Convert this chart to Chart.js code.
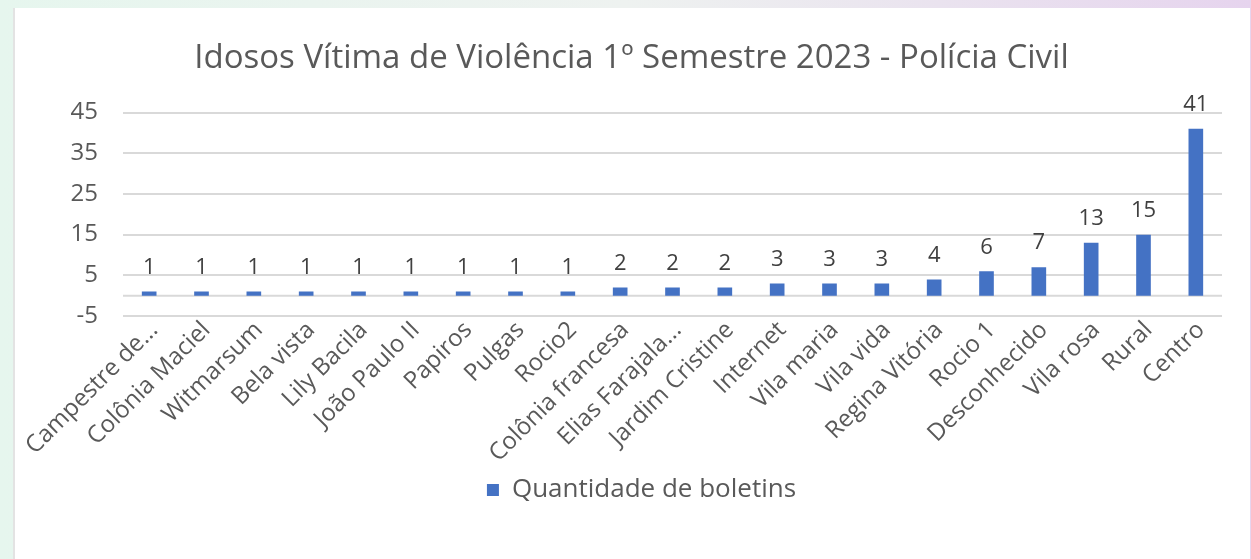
<!DOCTYPE html>
<html>
<head>
<meta charset="utf-8">
<script src="https://cdn.jsdelivr.net/npm/chart.js@4"></script>
<style>
  html, body { margin: 0; padding: 0; }
  body {
    width: 1251px; height: 559px; overflow: hidden;
    background: linear-gradient(90deg, #e6f6ee 0%, #eef2f0 50%, #e6d4ee 100%);
  }
  #panel {
    position: absolute; left: 13px; top: 8px; width: 1235px; height: 551px;
    background: #fff; border-left: 2px solid #e3e3e3;
  }
</style>
</head>
<body>
<div id="panel"><canvas id="chart" width="1235" height="551"></canvas></div>
<script>
// Bairros / categorias
var bairros = [
  "Campestre de...", "Colônia Maciel", "Witmarsum", "Bela vista", "Lily Bacila",
  "João Paulo II", "Papiros", "Pulgas", "Rocio2", "Colônia francesa",
  "Elias Farajala...", "Jardim Cristine", "Internet", "Vila maria", "Vila vida",
  "Regina Vitória", "Rocio 1", "Desconhecido", "Vila rosa", "Rural", "Centro"
];
// Quantidade de boletins
var boletins = [1, 1, 1, 1, 1, 1, 1, 1, 1, 2, 2, 2, 3, 3, 3, 4, 6, 7, 13, 15, 41];
// Eixo Y
var yMin = -5;
var yMax = 45;
var yStep = 10;

var FONT = "'Open Sans', sans-serif";
var GRAY = "#595959";

// Rótulos de dados acima das barras
var dataLabels = {
  id: "dataLabels",
  afterDatasetsDraw: function (chart) {
    var ctx = chart.ctx;
    var meta = chart.getDatasetMeta(0);
    ctx.save();
    ctx.font = "22px " + FONT;
    ctx.fillStyle = "#404040";
    ctx.textAlign = "center";
    ctx.textBaseline = "bottom";
    meta.data.forEach(function (bar, i) {
      ctx.fillText(boletins[i], bar.x, bar.y - 13);
    });
    ctx.restore();
  }
};

// Linha do zero (eixo de categorias)
var zeroLine = {
  id: "zeroLine",
  beforeDatasetsDraw: function (chart) {
    var ctx = chart.ctx;
    var y = chart.scales.y.getPixelForValue(0);
    ctx.save();
    ctx.strokeStyle = "#d9d9d9";
    ctx.lineWidth = 2;
    ctx.beginPath();
    ctx.moveTo(chart.chartArea.left, y);
    ctx.lineTo(chart.chartArea.right, y);
    ctx.stroke();
    ctx.restore();
  }
};

// Legenda um pouco à direita, como no original
var legendShift = {
  id: "legendShift",
  afterLayout: function (chart) {
    chart.legend.left += 10;
    chart.legend.right += 10;
  }
};

new Chart(document.getElementById("chart").getContext("2d"), {
  type: "bar",
  data: {
    labels: bairros,
    datasets: [
      {
        label: "Quantidade de boletins",
        data: boletins,
        backgroundColor: "#4472C4",
        borderWidth: 0,
        barPercentage: 0.28,
        categoryPercentage: 1.0,
      },
    ],
  },
  options: {
    responsive: false,
    animation: false,
    layout: { padding: { top: 31, right: 28, bottom: 46, left: 26 } },
    plugins: {
      title: {
        display: true,
        text: "Idosos Vítima de Violência 1º Semestre 2023 - Polícia Civil",
        color: GRAY,
        font: { family: FONT, size: 33, weight: "normal" },
        padding: { top: 0, bottom: 34 },
      },
      legend: {
        position: "bottom",
        labels: {
          color: GRAY,
          font: { family: FONT, size: 26 },
          boxWidth: 12,
          boxHeight: 12,
          padding: 10,
        },
      },
      tooltip: { enabled: false },
    },
    scales: {
      x: {
        grid: { display: false },
        border: { display: false },
        ticks: {
          color: GRAY,
          font: { family: FONT, size: 24 },
          minRotation: 45,
          maxRotation: 45,
          autoSkip: false,
          padding: -8,
          labelOffset: 5,
        },
        afterFit: function (s) { s.height = 151; },
      },
      y: {
        min: yMin,
        max: yMax,
        grid: { color: "#d9d9d9", lineWidth: 2, drawTicks: false },
        border: { display: false },
        ticks: {
          stepSize: yStep,
          color: GRAY,
          font: { family: FONT, size: 24 },
          padding: 25,
        },
        afterFit: function (s) { s.width = 82; },
      },
    },
  },
  plugins: [dataLabels, zeroLine, legendShift],
});
</script>
</body>
</html>
